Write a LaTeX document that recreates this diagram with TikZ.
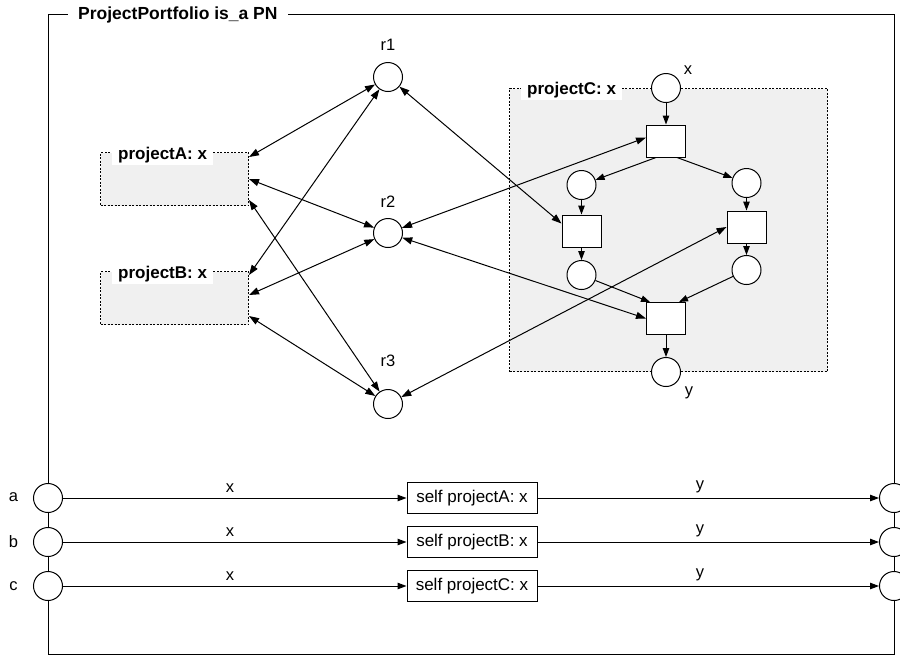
\documentclass[tikz,border=0pt]{standalone}
\usepackage{fontspec}
\setmainfont{Liberation Sans}
\usetikzlibrary{arrows.meta,calc}
\definecolor{boxgray}{HTML}{F0F0F0}
\tikzset{
  place/.style={circle, draw, fill=white, line width=1pt, minimum size=29pt, inner sep=0pt},
  trans/.style={rectangle, draw, fill=white, line width=1pt, minimum width=39pt, minimum height=32pt, inner sep=0pt},
  subnet/.style={rectangle, draw, fill=boxgray, line width=1pt, dash pattern=on 2pt off 1.5pt, inner sep=0pt, anchor=north west},
  subtitle/.style={anchor=base west, fill=white, inner xsep=6pt, inner ysep=0pt, text height=14pt, text depth=6pt, font=\fontsize{17}{20}\selectfont\bfseries},
  callbox/.style={rectangle, draw, fill=white, line width=1pt, minimum width=130pt, minimum height=31pt, inner sep=0pt, font=\fontsize{17}{20}\selectfont},
  lbl/.style={font=\fontsize{16.5}{19}\selectfont, inner sep=0pt},
  arc/.style={line width=1pt, -{Triangle[length=9pt,width=6.5pt]}},
  biarc/.style={line width=1pt, {Triangle[length=10pt,width=7pt]}-{Triangle[length=10pt,width=7pt]}},
}
\begin{document}
\begin{tikzpicture}[x=1pt, y=-1pt]
\useasboundingbox (0,0) rectangle (900,657);

% outer frame with its title
\node[draw, line width=1pt, minimum width=846pt, minimum height=640pt, inner sep=0pt, anchor=north west] (frame) at (48,14) {};
\node[anchor=base west, fill=white, inner xsep=10pt, inner ysep=2pt, font=\fontsize{17.5}{21}\selectfont\bfseries] (title) at (68,19.5) {ProjectPortfolio is\_a PN};

% sub-nets
\node[subnet, minimum width=148pt, minimum height=53pt] (pA) at (100,152) {};
\node[subnet, minimum width=148pt, minimum height=53pt] (pB) at (100,271) {};
\node[subnet, minimum width=318pt, minimum height=283pt] (pC) at (509,88) {};
\node[subtitle] (pAt) at (112,159) {projectA: x};
\node[subtitle] (pBt) at (112,278) {projectB: x};
\node[subtitle] (pCt) at (521,94) {projectC: x};

% resources
\node[place] (r1) at (388,77) {};
\node[place] (r2) at (388,233) {};
\node[place] (r3) at (388,404) {};
\node[lbl] (r1l) at (388,45) {r1};
\node[lbl] (r2l) at (388,202) {r2};
\node[lbl] (r3l) at (388,361) {r3};

% net inside projectC
\node[place] (cin) at (666,88) {};
\node[trans] (t1) at (666,141) {};
\node[place] (pL1) at (581.5,185) {};
\node[place] (pR1) at (746.5,183) {};
\node[trans] (tL) at (581.5,231) {};
\node[trans] (tR) at (746.5,227) {};
\node[place] (pL2) at (581.5,275) {};
\node[place] (pR2) at (746.5,270) {};
\node[trans] (tB) at (666,318.5) {};
\node[place] (cout) at (666,372) {};
\node[lbl] (cinl) at (688,70) {x};
\node[lbl] (coutl) at (689,393) {y};

% interface places and self calls
\node[place] (ia) at (48,498) {};
\node[place] (ib) at (48,542) {};
\node[place] (ic) at (48,586) {};
\node[place] (oa) at (894,498) {};
\node[place] (ob) at (894,542) {};
\node[place] (oc) at (894,586) {};
\node[lbl] (ial) at (13.5,497.5) {a};
\node[lbl] (ibl) at (13.5,541.5) {b};
\node[lbl] (icl) at (13.5,586.5) {c};
\node[callbox] (sa) at (472,498) {self projectA: x};
\node[callbox] (sb) at (472,542) {self projectB: x};
\node[callbox] (sc) at (472,586) {self projectC: x};

% resource arcs, left
\draw[biarc] ($(pA.north east)+(0,5)$) -- (r1);
\draw[biarc] ($(pA.north east)+(0,27)$) -- (r2);
\draw[biarc] ($(pA.north east)+(0,48)$) -- (r3);
\draw[biarc] ($(pB.north east)+(0,4)$) -- (r1);
\draw[biarc] ($(pB.north east)+(0,24)$) -- (r2);
\draw[biarc] ($(pB.north east)+(0,45)$) -- (r3);

% resource arcs, right
\draw[biarc] (r1) -- ($(tL.north west)+(0,9)$);
\draw[biarc] (r2) -- ($(t1.north west)+(0,13)$);
\draw[biarc] (r2) -- (tB.west);
\draw[biarc] (r3) -- (tR.west);

% arcs inside projectC
\draw[arc] (cin) -- (t1);
\draw[arc] ($(t1.south)+(-10,0)$) -- (pL1);
\draw[arc] ($(t1.south)+(11,0)$) -- (pR1);
\draw[arc] (pL1) -- (tL);
\draw[arc] (pR1) -- (tR);
\draw[arc] (tL) -- (pL2);
\draw[arc] (tR) -- (pR2);
\draw[arc] (pL2) -- ($(tB.north west)+(4,0)$);
\draw[arc] (pR2) -- ($(tB.north east)+(-7,0)$);
\draw[arc] (tB) -- (cout);

% call arcs
\draw[arc] (ia) -- node[lbl, pos=0.486, yshift=10pt] (xa) {x} (sa);
\draw[arc] (ib) -- node[lbl, pos=0.486, yshift=10pt] (xb) {x} (sb);
\draw[arc] (ic) -- node[lbl, pos=0.486, yshift=10pt] (xc) {x} (sc);
\draw[arc] (sa) -- node[lbl, pos=0.476, yshift=11.5pt] (ya) {y} (oa);
\draw[arc] (sb) -- node[lbl, pos=0.476, yshift=11.5pt] (yb) {y} (ob);
\draw[arc] (sc) -- node[lbl, pos=0.476, yshift=11.5pt] (yc) {y} (oc);
\end{tikzpicture}
\end{document}
